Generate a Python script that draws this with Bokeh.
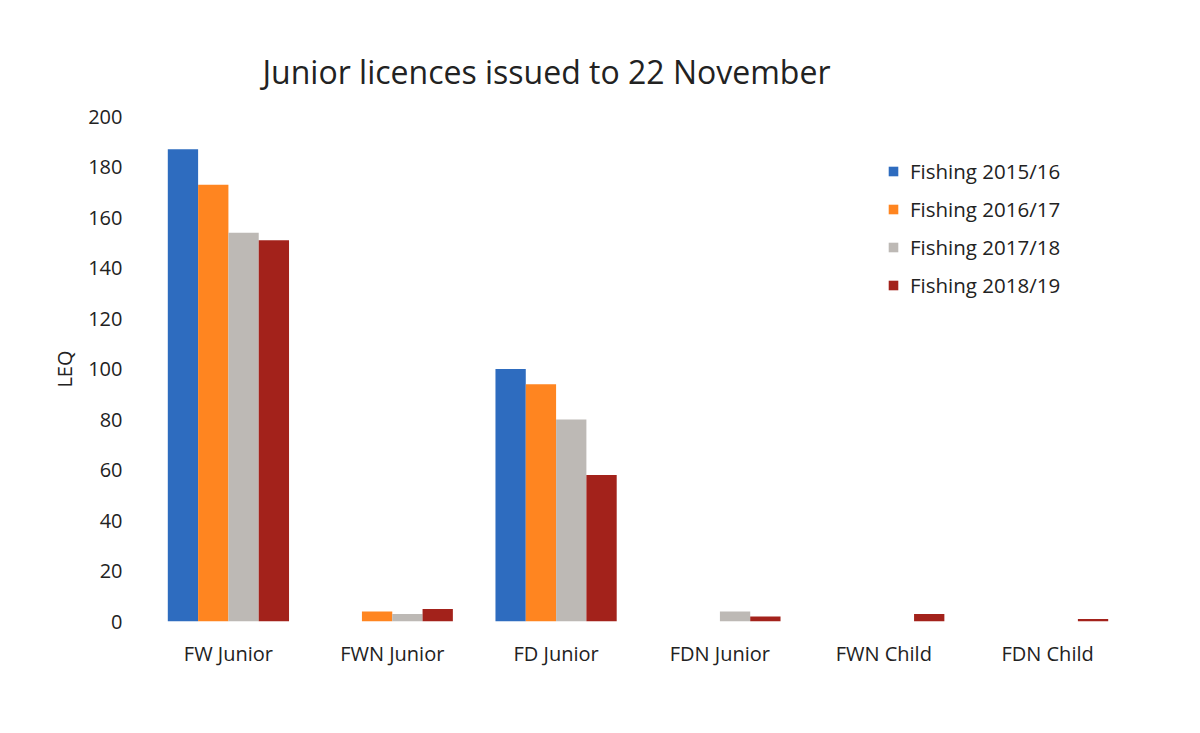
from bokeh.plotting import figure
from bokeh.models import FactorRange, Range1d, Legend, LegendItem, ColumnDataSource
from bokeh.transform import dodge
from bokeh.embed import file_html
from bokeh.resources import INLINE

categories = ["FW Junior", "FWN Junior", "FD Junior", "FDN Junior", "FWN Child", "FDN Child"]
series_names = ["Fishing 2015/16", "Fishing 2016/17", "Fishing 2017/18", "Fishing 2018/19"]
s2015 = [187, 0, 100, 0, 0, 0]
s2016 = [173, 4, 94, 0, 0, 0]
s2017 = [154, 3, 80, 4, 0, 0]
s2018 = [151, 5, 58, 2, 3, 1]
y_ticks = [0, 20, 40, 60, 80, 100, 120, 140, 160, 180, 200]

colors = ["#2E6CBF", "#FF8520", "#BDB9B5", "#A3221B"]
offsets = [-0.2775, -0.0925, 0.0925, 0.2775]
FONT = "Open Sans"
TXT = "#222222"

src = ColumnDataSource(dict(cat=categories, s0=s2015, s1=s2016, s2=s2017, s3=s2018))

p = figure(width=1184, height=717, x_range=FactorRange(*categories),
           y_range=Range1d(0, 200), output_backend="svg", toolbar_location=None,
           min_border_left=146, min_border_right=55, min_border_top=116,
           min_border_bottom=96)
p.outline_line_color = None
p.background_fill_color = "white"
p.border_fill_color = "white"
p.x_range.range_padding = 0
p.x_range.group_padding = 0

renderers = []
for i, key in enumerate(["s0", "s1", "s2", "s3"]):
    r = p.vbar(x=dodge("cat", offsets[i], range=p.x_range), top=key, width=0.185,
               source=src, fill_color=colors[i], line_color=None)
    renderers.append(r)

p.title.text = "Junior licences issued to 22 November"
p.title.text_font = FONT
p.title.text_font_size = "32px"
p.title.text_font_style = "normal"
p.title.text_color = TXT
p.title.align = "left"
p.title.offset = 116
p.title.standoff = 48

p.xgrid.grid_line_color = None
p.ygrid.grid_line_color = None

p.yaxis.ticker = y_ticks
p.yaxis.axis_line_color = None
p.yaxis.major_tick_line_color = None
p.yaxis.minor_tick_line_color = None
p.yaxis.major_label_text_font = FONT
p.yaxis.major_label_text_font_size = "20px"
p.yaxis.major_label_text_color = TXT
p.yaxis.major_label_standoff = 18
p.yaxis.axis_label = "LEQ"
p.yaxis.axis_label_text_font = FONT
p.yaxis.axis_label_text_font_size = "20px"
p.yaxis.axis_label_text_font_style = "normal"
p.yaxis.axis_label_text_color = TXT
p.yaxis.axis_label_standoff = 7

p.xaxis.axis_line_color = None
p.xaxis.major_tick_line_color = None
p.xaxis.minor_tick_line_color = None
p.xaxis.major_label_text_font = FONT
p.xaxis.major_label_text_font_size = "20px"
p.xaxis.major_label_text_color = TXT
p.xaxis.major_label_standoff = 12

legend = Legend(items=[LegendItem(label=series_names[i], renderers=[renderers[i]]) for i in range(4)],
                location=(741, 322), orientation="vertical")
legend.background_fill_alpha = 0
legend.border_line_color = None
legend.padding = 0
legend.margin = 0
legend.spacing = 9
legend.glyph_width = 12
legend.glyph_height = 12
legend.label_height = 29
legend.label_standoff = 11
legend.label_text_font = FONT
legend.label_text_font_size = "20.5px"
legend.label_text_color = TXT
p.add_layout(legend)

open("out.html", "w").write(file_html(p, INLINE))
